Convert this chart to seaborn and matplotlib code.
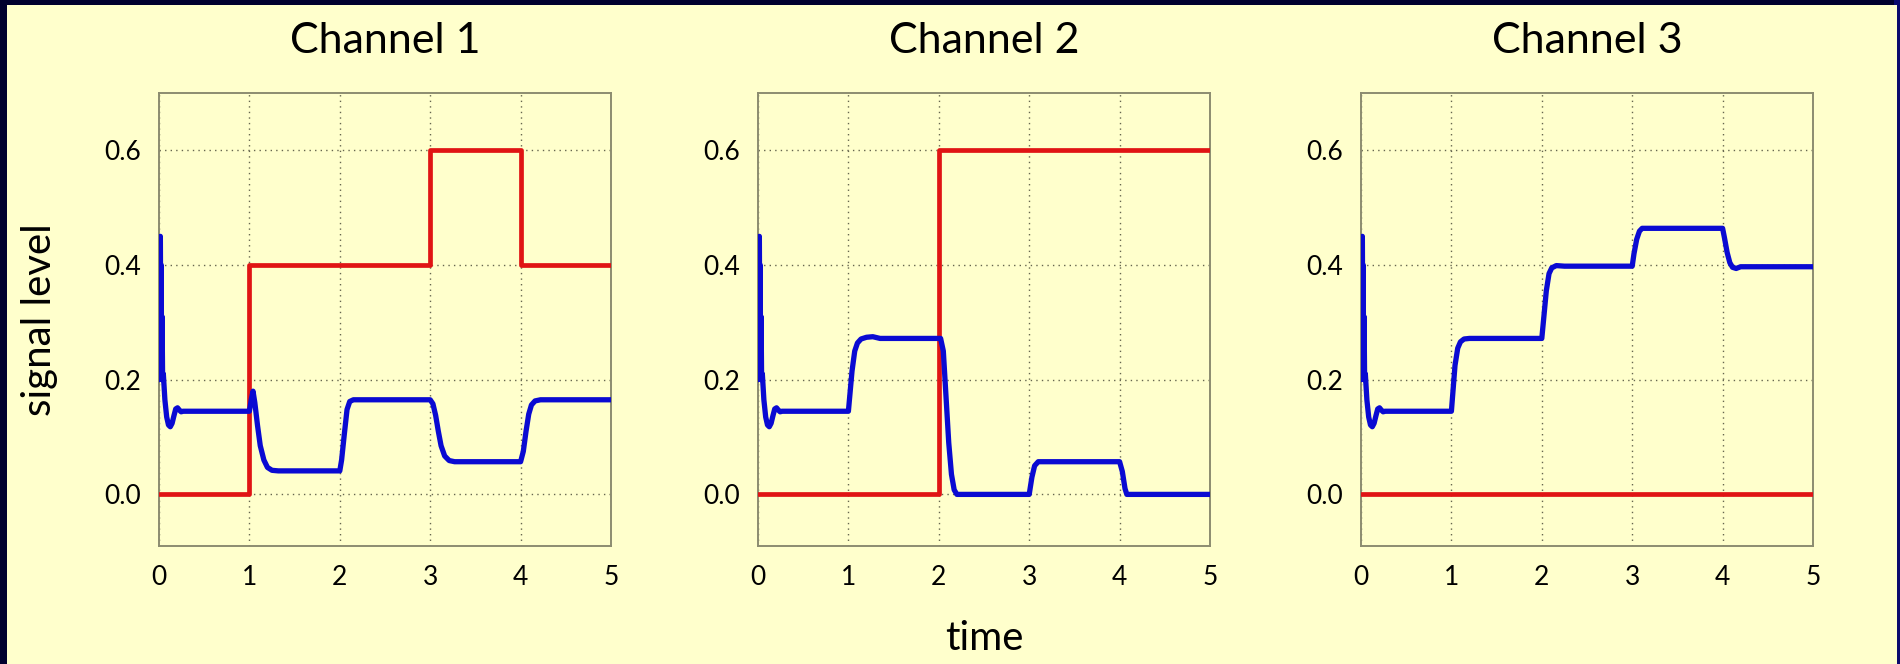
import matplotlib
matplotlib.use("Agg")
import matplotlib.pyplot as plt
from matplotlib.patches import Rectangle
import seaborn as sns

# ---- data -------------------------------------------------------------
channels = ["Channel 1", "Channel 2", "Channel 3"]

# input (red) step levels: value held from each time until the next
ch1_step_t = [0, 1, 3, 4, 5]
ch1_step_v = [0.0, 0.4, 0.6, 0.4, 0.4]
ch2_step_t = [0, 2, 5]
ch2_step_v = [0.0, 0.6, 0.6]
ch3_step_t = [0, 5]
ch3_step_v = [0.0, 0.0]

# start-up transient shared by all channels (t from 0 to 1)
start_t = [0.0, 0.006, 0.010, 0.015, 0.019, 0.024, 0.029, 0.034, 0.040,
           0.048, 0.065, 0.085, 0.105, 0.125, 0.145, 0.165, 0.185, 0.205,
           0.225, 0.245, 0.265, 1.0]
start_v = [0.20, 0.40, 0.26, 0.45, 0.30, 0.40, 0.22, 0.31, 0.20,
           0.21, 0.165, 0.135, 0.121, 0.118, 0.124, 0.137, 0.149, 0.151,
           0.147, 0.144, 0.145, 0.145]

# output (blue) response after t = 1
ch1_resp_t = [1.02, 1.04, 1.06, 1.09, 1.12, 1.16, 1.20, 1.25, 1.32, 2.0,
              2.02, 2.05, 2.08, 2.11, 2.15, 3.0, 3.03, 3.06, 3.09, 3.12,
              3.16, 3.21, 3.27, 4.0, 4.03, 4.06, 4.09, 4.12, 4.16, 4.22, 5.0]
ch1_resp_v = [0.165, 0.180, 0.160, 0.120, 0.085, 0.060, 0.047, 0.042, 0.041, 0.041,
              0.060, 0.105, 0.148, 0.162, 0.165, 0.165, 0.158, 0.138, 0.110, 0.085,
              0.067, 0.059, 0.057, 0.057, 0.075, 0.110, 0.140, 0.156, 0.163, 0.165, 0.165]

ch2_resp_t = [1.02, 1.04, 1.07, 1.10, 1.14, 1.20, 1.27, 1.35, 2.02, 2.05,
              2.08, 2.11, 2.14, 2.17, 2.20, 3.0, 3.03, 3.06, 3.10, 4.0,
              4.03, 4.06, 4.08, 5.0]
ch2_resp_v = [0.180, 0.215, 0.250, 0.264, 0.271, 0.274, 0.275, 0.272, 0.272, 0.250,
              0.170, 0.090, 0.035, 0.008, 0.0, 0.0, 0.030, 0.050, 0.057, 0.057,
              0.040, 0.010, 0.0, 0.0]

ch3_resp_t = [1.02, 1.04, 1.07, 1.10, 1.14, 1.20, 2.0, 2.02, 2.05, 2.08,
              2.11, 2.16, 2.25, 3.0, 3.02, 3.05, 3.08, 3.11, 4.0, 4.02,
              4.05, 4.08, 4.11, 4.15, 4.20, 5.0]
ch3_resp_v = [0.185, 0.225, 0.255, 0.266, 0.271, 0.272, 0.272, 0.305, 0.355, 0.385,
              0.395, 0.399, 0.398, 0.398, 0.420, 0.445, 0.459, 0.464, 0.464, 0.448,
              0.422, 0.404, 0.396, 0.394, 0.397, 0.397]

steps = [(ch1_step_t, ch1_step_v), (ch2_step_t, ch2_step_v), (ch3_step_t, ch3_step_v)]
responses = [(ch1_resp_t, ch1_resp_v), (ch2_resp_t, ch2_resp_v), (ch3_resp_t, ch3_resp_v)]

x_ticks = [0, 1, 2, 3, 4, 5]
y_ticks = [0.0, 0.2, 0.4, 0.6]
y_tick_labels = ["0.0", "0.2", "0.4", "0.6"]

# ---- style --------------------------------------------------------------
CREAM = "#FFFFCC"
RED = "#E01414"
BLUE = "#0A0AD2"
FRAME = "#8C8C70"

sns.set_theme(style="white")
plt.rcParams["font.family"] = ["Lato", "DejaVu Sans"]
plt.rcParams["axes.facecolor"] = CREAM

W, H = 1900, 664
fig = plt.figure(figsize=(W / 100, H / 100), dpi=100, facecolor="#00002E")

# cream page inside a dark navy frame
fig.patches.append(Rectangle((1894 / W, 0), 6 / W, 1, transform=fig.transFigure,
                             facecolor="#0A0A6E", edgecolor="none", zorder=-2))
fig.patches.append(Rectangle((7 / W, 0), (1897 - 7) / W, 659 / H,
                             transform=fig.transFigure, facecolor=CREAM,
                             edgecolor="none", zorder=-1))

lefts = [159, 758, 1361]
ax_w = 452
bottom_px, top_px = 546, 93

for i, name in enumerate(channels):
    ax = fig.add_axes([lefts[i] / W, 1 - bottom_px / H, ax_w / W, (bottom_px - top_px) / H])
    ax.set_facecolor(CREAM)

    st, sv = steps[i]
    sns.lineplot(x=st, y=sv, ax=ax, color=RED, linewidth=3.4,
                 drawstyle="steps-post", estimator=None, zorder=3)

    rt, rv = responses[i]
    bt = start_t + rt
    bv = start_v + rv
    sns.lineplot(x=bt, y=bv, ax=ax, color=BLUE, linewidth=3.8,
                 estimator=None, sort=False, zorder=4)

    ax.set_xlim(0, 5)
    ax.set_ylim(-0.09, 0.70)
    ax.set_xticks(x_ticks)
    ax.set_yticks(y_ticks)
    ax.set_yticklabels(y_tick_labels)
    ax.grid(True, color="#66664F", linestyle=(0, (1, 3)), linewidth=1.0)
    for s in ax.spines.values():
        s.set_color(FRAME)
        s.set_linewidth(1.4)
    ax.tick_params(axis="both", direction="out", length=3, width=1,
                   color=FRAME, labelsize=19, labelcolor="black")
    ax.tick_params(axis="y", pad=10)
    ax.tick_params(axis="x", pad=11)
    ax.set_xlabel("")
    ax.set_ylabel("")
    ax.set_title(name, fontsize=31, pad=29, color="black")

fig.text(40 / W, 1 - (top_px + bottom_px) / 2 / H, "signal level", rotation=90,
         ha="center", va="center", fontsize=29, color="black")
fig.text((758 + ax_w / 2) / W, 1 - 638 / H, "time", ha="center", va="center",
         fontsize=29, color="black")

fig.savefig("out.png", dpi=100, facecolor=fig.get_facecolor())
